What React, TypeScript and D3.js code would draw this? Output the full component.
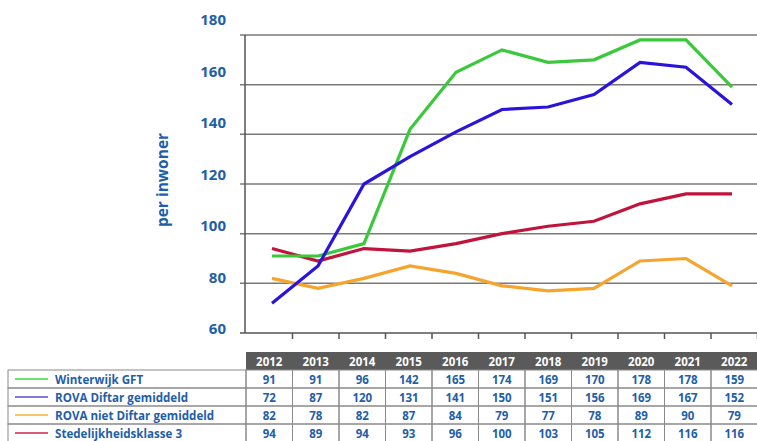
import React from "react";
import * as d3 from "d3";

const years = ["2012","2013","2014","2015","2016","2017","2018","2019","2020","2021","2022"];
const seriesNames = ["Winterwijk GFT","ROVA Diftar gemiddeld","ROVA niet Diftar gemiddeld","Stedelijkheidsklasse 3"];
const winterwijk = [91,91,96,142,165,174,169,170,178,178,159];
const rovaDiftar = [72,87,120,131,141,150,151,156,169,167,152];
const rovaNiet = [82,78,82,87,84,79,77,78,89,90,79];
const stedelijk = [94,89,94,93,96,100,103,105,112,116,116];
const yTicks = [60,80,100,120,140,160,180];
const lineColors = ["#3cc83c","#2a14dc","#f5a52e","#c0143c"];
const legendColors = ["#6ee06e","#8a78d8","#f8c468","#e05878"];

const W = 757, H = 441;
const BLUE = "#1f5ea8";
const FONT = "'Open Sans', 'Noto Sans', sans-serif";

export default function App() {
  const data = [winterwijk, rovaDiftar, rovaNiet, stedelijk];
  const y = d3.scaleLinear().domain([60, 180]).range([333, 35]);
  const yLab = d3.scaleLinear().domain([60, 180]).range([328, 19]);
  const x = d3.scalePoint<string>().domain(years).range([272, 732]);
  const band = d3.scaleBand<string>().domain(years).range([246, 757.5]);
  const line = d3.line<number>().x((_, i) => x(years[i])!).y(d => y(d));

  const headerTop = 352, headerH = 18, rowH = 18;
  const rowTop = (i: number) => headerTop + headerH + i * rowH;

  return (
    <svg width={W} height={H} style={{ position: "absolute", left: 0, top: 0, background: "#fff" }} fontFamily={FONT}>
      {/* gridlines */}
      {yTicks.filter(t => t > 60).map(t => (
        <line key={t} x1={240} x2={757} y1={y(t)} y2={y(t)} stroke="#7a7a7a" strokeWidth={1.5} />
      ))}
      {/* axes */}
      <line x1={245} x2={245} y1={y(180)} y2={y(60)} stroke="#555" strokeWidth={1.5} />
      <line x1={240} x2={757} y1={y(60)} y2={y(60)} stroke="#555" strokeWidth={1.5} />
      {band.domain().map(d => (
        <line key={d} x1={band(d)! + band.bandwidth()} x2={band(d)! + band.bandwidth()} y1={y(60)} y2={y(60) + 6} stroke="#555" strokeWidth={1.5} />
      ))}
      {/* y labels */}
      {yTicks.map(t => (
        <text key={t} x={226} y={yLab(t)} textAnchor="end" dominantBaseline="central" fontSize={15} fontWeight={700} fill={BLUE}>{t}</text>
      ))}
      <text transform={`translate(162,180) rotate(-90)`} textAnchor="middle" dominantBaseline="central" fontSize={15.5} fontWeight={700} fill={BLUE}>per inwoner</text>
      {/* lines */}
      {[3, 2, 0, 1].map(si => (
        <path key={si} d={line(data[si])!} fill="none" stroke={lineColors[si]} strokeWidth={3.2} strokeLinejoin="miter" />
      ))}
      {/* table header */}
      <rect x={246} y={headerTop} width={757.5 - 246} height={headerH} fill="#5a5a5a" />
      {years.map(yr => (
        <text key={yr} x={band(yr)! + band.bandwidth() / 2} y={headerTop + headerH / 2 + 0.5} textAnchor="middle" dominantBaseline="central" fontSize={11.5} fontWeight={700} fill="#fff">{yr}</text>
      ))}
      {/* table rows */}
      {seriesNames.map((name, i) => (
        <g key={name}>
          <rect x={8} y={rowTop(i)} width={238} height={rowH} fill="none" stroke="#8a8a8a" strokeWidth={1} />
          <line x1={15} x2={48} y1={rowTop(i) + rowH / 2} y2={rowTop(i) + rowH / 2} stroke={legendColors[i]} strokeWidth={2} />
          <text x={55} y={rowTop(i) + rowH / 2 + 0.5} dominantBaseline="central" fontSize={11.6} fontWeight={700} fill={BLUE}>{name}</text>
          {years.map((yr, j) => (
            <g key={yr}>
              <rect x={band(yr)!} y={rowTop(i)} width={band.bandwidth()} height={rowH} fill="none" stroke="#8a8a8a" strokeWidth={1} />
              <text x={band(yr)! + band.bandwidth() / 2} y={rowTop(i) + rowH / 2 + 0.5} textAnchor="middle" dominantBaseline="central" fontSize={11.5} fontWeight={700} fill={BLUE}>{data[i][j]}</text>
            </g>
          ))}
        </g>
      ))}
    </svg>
  );
}
